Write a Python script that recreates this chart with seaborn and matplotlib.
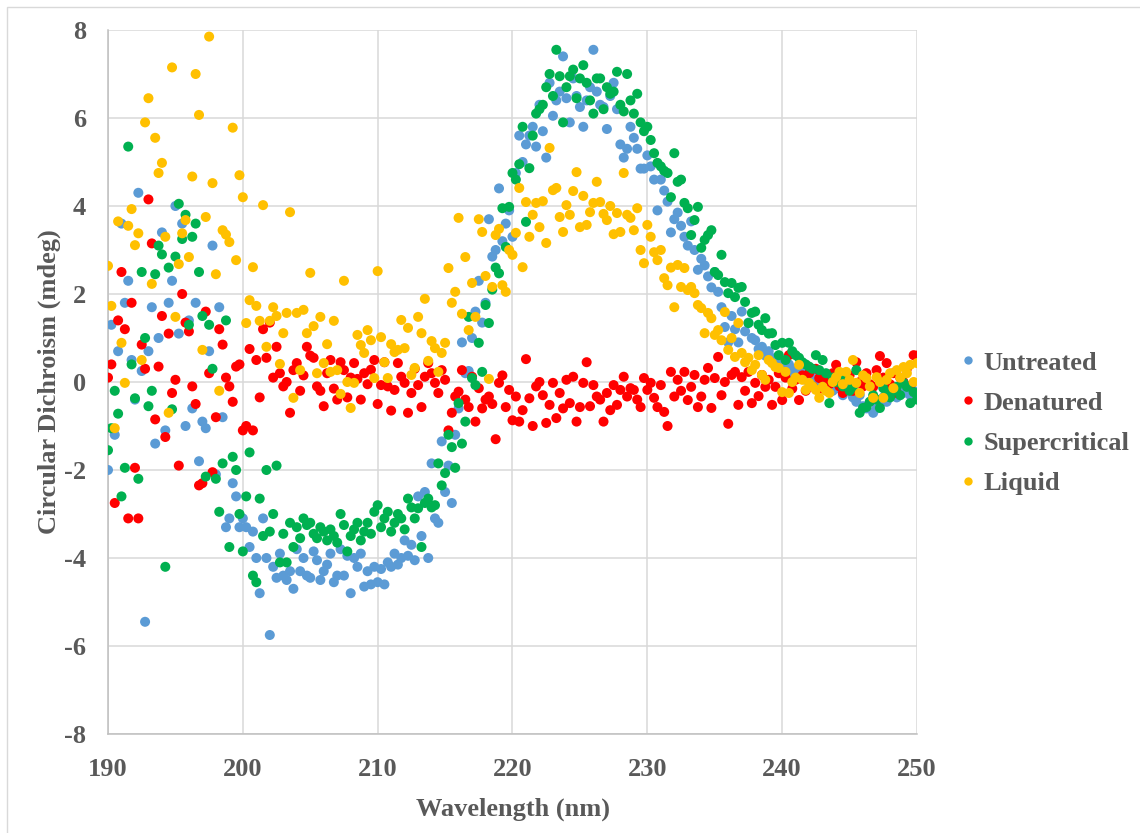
import matplotlib
matplotlib.use("Agg")
import matplotlib.pyplot as plt
from matplotlib.lines import Line2D
from matplotlib.patches import Rectangle
import numpy as np
import pandas as pd
import seaborn as sns

# wavelength grid of the scan, 0.25 nm steps
wavelength = np.arange(190, 250.001, 0.25)

# CD readings (mdeg), one row per nm (4 readings), last value at 250 nm
untreated = [
    -2.0, 1.3, -1.2, 0.7,   3.6, 1.8, 2.3, 0.5,   -0.4, 4.3, 0.25, -5.45,
    0.7, 1.7, -1.4, 1.0,    3.4, -1.1, 1.8, 2.3,  4.0, 1.1, 3.6, -1.0,
    1.4, -0.6, 1.8, -1.8,   -0.9, -1.05, 0.7, 3.1,  -2.1, 1.7, -0.8, -3.3,
    -3.1, -2.3, -2.6, -3.3,  -3.1, -3.3, -3.75, -3.4,  -4.0, -4.8, -3.1, -4.0,
    -5.75, -4.2, -4.45, -3.9,  -4.4, -4.5, -4.3, -4.7,  -3.8, -4.3, -4.0, -4.4,
    -4.45, -3.85, -4.05, -4.5,  -4.3, -4.15, -3.9, -4.55,  -4.4, -3.8, -4.4, -3.95,
    -4.8, -4.0, -4.2, -3.9,  -4.65, -4.3, -4.6, -4.2,  -4.55, -4.25, -4.6, -4.1,
    -4.2, -3.9, -4.15, -4.0,  -3.6, -3.95, -3.7, -4.05,  -2.6, -3.5, -2.5, -4.0,
    -1.85, -3.1, -3.2, -1.35,  -2.5, -1.9, -2.75, -1.2,  -0.6, 0.9, 0.2, 0.25,
    1.0, 1.6, 2.3, 1.35,  1.8, 3.7, 2.85, 3.0,  4.4, 3.2, 3.6, 3.9,
    3.3, 4.75, 5.6, 5.0,  5.4, 5.6, 5.8, 5.35,  6.3, 5.7, 5.1, 6.8,
    6.05, 6.4, 6.6, 7.4,  6.45, 5.9, 6.9, 6.5,  6.25, 5.8, 6.4, 6.7,
    7.55, 6.6, 6.3, 6.25,  5.75, 6.5, 6.8, 6.2,  5.4, 5.1, 5.3, 5.8,
    5.55, 5.3, 4.85, 4.85,  5.15, 4.9, 4.6, 3.9,  4.6, 4.35, 4.1, 3.4,
    3.7, 3.85, 3.55, 3.3,  3.1, 3.65, 3.0, 2.55,  2.8, 2.65, 2.4, 2.15,
    2.5, 2.05, 1.7, 1.25,  0.9, 1.5, 1.2, 0.9,  1.6, 1.15, 1.35, 1.0,
    0.95, 0.75, 0.8, 0.6,  0.7, 0.5, 0.55, 0.35,  0.45, 0.3, 0.4, 0.2,
    0.3, 0.15, 0.25, 0.05,  0.2, 0.1, -0.05, 0.15,  0.0, -0.1, 0.05, -0.2,
    -0.05, -0.15, -0.3, -0.1,  -0.2, -0.35, -0.45, -0.3,  -0.55, -0.6, -0.45, -0.7,
    -0.6, -0.5, -0.35, -0.45,  -0.3, -0.2, -0.35, -0.15,  -0.25, -0.1, -0.3, -0.2,
    -0.25,
]

denatured = [
    0.1, 0.4, -2.75, 1.4,  2.5, 1.2, -3.1, 1.8,  -1.95, -3.1, 0.85, 0.3,
    4.15, 3.15, -0.85, 0.35,  1.5, -1.25, 1.1, -0.25,  0.05, -1.9, 2.0, 1.35,
    1.15, -0.1, -0.5, -2.35,  -2.3, 1.6, 0.2, -2.05,  -0.8, 1.2, 0.85, 0.1,
    -0.1, -0.45, 0.35, 0.4,  -1.1, -1.0, 0.75, -1.1,  0.5, -0.35, 1.2, 0.55,
    1.35, 0.1, 0.8, 0.2,  -0.1, 0.0, -0.7, 0.27,  0.43, -0.2, 0.15, 0.8,
    0.6, 0.55, -0.1, -0.2,  -0.55, 0.2, 0.5, -0.15,  -0.4, 0.45, 0.27, -0.35,
    0.1, 0.43, 0.07, -0.4,  0.2, -0.05, 0.28, 0.5,  -0.5, -0.07, 0.45, -0.1,
    -0.65, -0.18, 0.43, 0.12,  -0.02, -0.7, -0.25, 0.3,  -0.07, -0.57, 0.12, 0.43,
    0.2, -0.02, -0.25, 0.27,  0.05, -1.1, -0.7, -0.33,  -0.22, 0.27, -0.4, -0.57,
    0.12, -0.9, -0.14, -0.6,  -0.4, -0.33, -0.5, -1.3,  -0.02, 0.15, -0.57, -0.18,
    -0.87, -0.33, -0.9, -0.64,  0.52, -0.37, -1.0, -0.1,  0.0, -0.3, -0.93, -0.52,
    -0.02, -0.82, -0.25, -0.6,  0.05, -0.48, 0.12, -0.9,  -0.57, -0.02, 0.45, -0.55,
    -0.07, -0.33, -0.4, -0.9,  -0.25, -0.64, -0.07, -0.52,  -0.18, 0.12, -0.33, -0.14,
    -0.18, -0.4, -0.57, 0.09,  -0.18, -0.02, -0.36, -0.57,  -0.07, -0.68, -1.0, 0.23,
    -0.33, 0.05, -0.2, 0.23,  -0.41, -0.11, 0.16, -0.57,  -0.33, 0.05, 0.32, -0.59,
    0.09, 0.57, -0.3, 0.0,  -0.95, 0.16, 0.23, -0.52,  0.11, -0.2, 0.23, -0.48,
    -0.02, -0.32, 0.16, -0.11,  0.05, -0.52, -0.11, 0.2,  -0.41, 0.1, 0.61, -0.15,
    0.05, -0.41, 0.15, -0.2,  0.2, -0.1, 0.3, 0.09,  -0.15, 0.1, -0.05, 0.2,
    0.39, -0.1, -0.25, 0.05,  0.15, -0.2, 0.45, 0.0,  -0.1, 0.2, -0.05, -0.11,
    0.27, 0.59, 0.1, 0.43,  -0.05, 0.2, -0.25, 0.1,  0.0, 0.3, -0.1, 0.61,
    0.6,
]

supercritical = [
    -1.55, -1.05, -0.2, -0.72,  -2.6, -1.95, 5.35, 0.4,  -0.37, -2.2, 2.5, 1.0,
    -0.55, -0.2, 2.45, 3.1,  2.9, -4.2, 2.6, -0.62,  2.85, 4.05, 3.25, 3.8,
    1.3, 3.3, 3.6, 2.5,  1.5, -2.15, 1.3, 0.3,  -2.2, -2.95, -1.85, 1.4,
    -3.75, -1.7, -2.0, -3.0,  -3.85, -2.6, -1.6, -4.4,  -4.55, -2.65, -3.5, -2.0,
    -3.4, -3.0, -1.9, -4.1,  -3.45, -4.1, -3.2, -3.75,  -3.3, -3.55, -3.1, -3.25,
    -3.2, -3.45, -3.55, -3.3,  -3.4, -3.6, -3.35, -3.5,  -3.65, -3.0, -3.25, -3.85,
    -3.5, -3.35, -3.2, -3.6,  -3.4, -3.2, -3.45, -2.95,  -2.8, -3.3, -3.1, -2.95,
    -3.4, -3.2, -3.0, -3.1,  -3.35, -2.65, -2.85, -3.1,  -2.87, -3.75, -2.75, -2.65,
    -2.85, -2.8, -1.85, -2.35,  -2.07, -1.2, -1.48, -1.95,  -0.48, -1.4, -0.9, 1.48,
    0.09, -0.07, 0.89, 0.23,  1.75, 1.34, 2.1, 2.6,  2.47, 3.95, 3.07, 3.98,
    4.75, 4.6, 4.95, 5.8,  3.64, 4.86, 5.6, 6.1,  6.2, 6.3, 6.7, 7.0,
    6.5, 7.55, 6.95, 5.9,  6.7, 6.95, 7.1, 6.45,  6.9, 7.2, 6.8, 6.4,
    6.1, 6.9, 6.9, 6.2,  6.7, 6.55, 6.6, 7.05,  6.3, 6.15, 7.0, 6.4,
    6.1, 6.55, 5.9, 5.7,  5.8, 5.5, 5.2, 4.98,  4.9, 4.8, 4.75, 4.2,
    5.2, 4.55, 4.6, 4.07,  3.95, 3.34, 3.68, 3.98,  3.05, 3.23, 3.34, 3.45,
    2.5, 2.43, 2.89, 2.27,  2.02, 2.25, 1.93, 2.14,  2.16, 1.82, 1.34, 1.57,
    1.6, 1.3, 1.18, 1.45,  1.1, 1.11, 0.84, 0.61,  0.89, 0.5, 0.89, 0.7,
    0.61, 0.55, 0.45, 0.4,  0.35, 0.3, 0.61, 0.27,  0.5, 0.2, -0.48, 0.1,
    0.0, 0.16, -0.1, 0.05,  -0.2, -0.11, 0.27, -0.7,  -0.59, -0.57, -0.45, -0.3,
    -0.4, -0.59, -0.14, -0.25,  -0.35, -0.2, -0.11, -0.3,  -0.02, -0.11, -0.48, -0.23,
    -0.4,
]

liquid = [
    2.64, 1.73, -1.05, 3.65,  0.89, -0.02, 3.55, 3.93,  3.11, 3.38, 0.5, 5.9,
    6.45, 2.23, 5.55, 4.75,  4.98, 3.3, -0.7, 7.15,  1.48, 2.68, 3.38, 3.68,
    2.84, 4.67, 7.0, 6.07,  0.73, 3.75, 7.85, 4.52,  2.45, -0.2, 3.45, 3.35,
    3.18, 5.78, 2.77, 4.7,  4.2, 1.34, 1.86, 2.61,  1.73, 1.39, 4.02, 0.8,
    1.39, 1.7, 1.5, 0.41,  1.11, 1.57, 3.86, -0.36,  1.57, 0.27, 1.64, 1.11,
    2.48, 1.27, 0.2, 1.48,  0.43, 0.86, 0.23, 1.39,  0.27, -0.27, 2.3, 0.0,
    -0.59, -0.02, 1.07, 0.84,  0.66, 1.18, 0.95, 0.09,  2.52, 1.02, 0.45, 0.09,
    0.86, 0.68, 0.73, 1.41,  0.77, 1.23, 0.16, 0.32,  1.48, 1.11, 1.89, 0.48,
    0.93, 0.77, 0.23, 0.66,  0.89, 2.59, 1.8, 2.05,  3.73, 1.55, 2.84, 1.18,
    2.25, 1.48, 3.7, 3.41,  2.41, 0.07, 2.16, 3.34,  3.48, 2.2, 2.05, 3.0,
    2.89, 3.39, 4.41, 2.61,  4.09, 3.3, 3.8, 4.07,  3.52, 4.11, 3.16, 5.32,
    4.36, 4.41, 3.75, 3.41,  4.02, 3.8, 4.34, 4.77,  3.52, 4.23, 3.57, 3.86,
    4.07, 4.55, 4.09, 3.82,  3.68, 4.0, 3.36, 3.84,  3.41, 4.75, 3.8, 3.73,
    3.45, 3.95, 3.0, 2.7,  3.57, 3.3, 2.95, 2.77,  3.0, 2.36, 2.2, 2.6,
    1.7, 2.66, 2.16, 2.59,  2.09, 2.16, 2.02, 1.75,  1.68, 1.11, 1.57, 1.45,
    1.07, 1.18, 0.95, 1.59,  0.73, 1.0, 0.57, 1.34,  0.66, 0.45, 0.55, 0.27,
    0.39, 0.61, 0.16, 0.05,  0.5, 0.43, 0.34, 0.32,  -0.23, 0.23, -0.25, 0.0,
    0.1, 0.39, 0.05, -0.18,  -0.02, -0.1, -0.18, -0.36,  -0.11, -0.2, -0.25, 0.0,
    0.11, 0.23, -0.05, 0.23,  0.05, 0.5, -0.02, -0.25,  0.15, 0.09, -0.1, -0.36,
    0.11, 0.0, -0.36, 0.05,  0.2, -0.14, 0.27, 0.1,  0.34, 0.2, 0.39, 0.0,
    0.43,
]

samples = ["Untreated", "Denatured", "Supercritical", "Liquid"]
colors = ["#5B9BD5", "#FF0000", "#00B050", "#FFC000"]

frames = []
for name, vals in zip(samples, [untreated, denatured, supercritical, liquid]):
    frames.append(pd.DataFrame({"Wavelength": wavelength, "CD": vals, "Sample": name}))
df = pd.concat(frames, ignore_index=True)

sns.set_style("white")
plt.rcParams["font.family"] = ["Liberation Serif", "DejaVu Serif"]
plt.rcParams["font.weight"] = "bold"
plt.rcParams["axes.unicode_minus"] = False
txt = "#595959"

fig = plt.figure(figsize=(11.4, 8.33), dpi=100)
ax = fig.add_axes([108 / 1140, 1 - 734 / 833, (917 - 108) / 1140, (734 - 30) / 833])

sns.scatterplot(data=df, x="Wavelength", y="CD", hue="Sample", hue_order=samples,
                palette=colors, s=52, linewidth=0, alpha=1, legend=False, ax=ax, zorder=3)

ax.set_xlim(190, 250)
ax.set_ylim(-8, 8)
ax.set_xticks(range(190, 251, 10))
ax.set_yticks(range(-8, 9, 2))
ax.grid(True, color="#D9D9D9", linewidth=1.1)
ax.set_axisbelow(True)
for side in ["top", "right"]:
    ax.spines[side].set_visible(False)
for side in ["left", "bottom"]:
    ax.spines[side].set_color("#BFBFBF")
    ax.spines[side].set_linewidth(1.1)
ax.tick_params(length=0, labelsize=19, labelcolor=txt, pad=16)
ax.tick_params(axis="x", pad=17)
for lab in ax.get_xticklabels() + ax.get_yticklabels():
    lab.set_fontweight("bold")

ax.set_xlabel("Wavelength (nm)", fontsize=19, fontweight="bold", color=txt, labelpad=12)
ax.set_ylabel("Circular Dichroism (mdeg)", fontsize=19, fontweight="bold", color=txt, labelpad=2)

handles = [Line2D([], [], linestyle="none", marker="o", markersize=6,
                  markerfacecolor=c, markeredgewidth=0) for c in colors]
leg = fig.legend(handles, samples, loc="center left",
                 bbox_to_anchor=(960 / 1140, 1 - 423 / 833), frameon=False,
                 prop={"size": 19, "weight": "bold"}, handlelength=0.6,
                 handletextpad=0.3, labelspacing=0.63, borderpad=0, borderaxespad=0)
for t in leg.get_texts():
    t.set_color(txt)

# outer chart-area border (only top and left edges fall inside the image)
fig.patches.append(Rectangle((7 / 1140, -0.05), 1.2, 1.05 - 7 / 833,
                             transform=fig.transFigure, fill=False,
                             edgecolor="#D9D9D9", linewidth=1))

fig.savefig("out.png", dpi=100)
